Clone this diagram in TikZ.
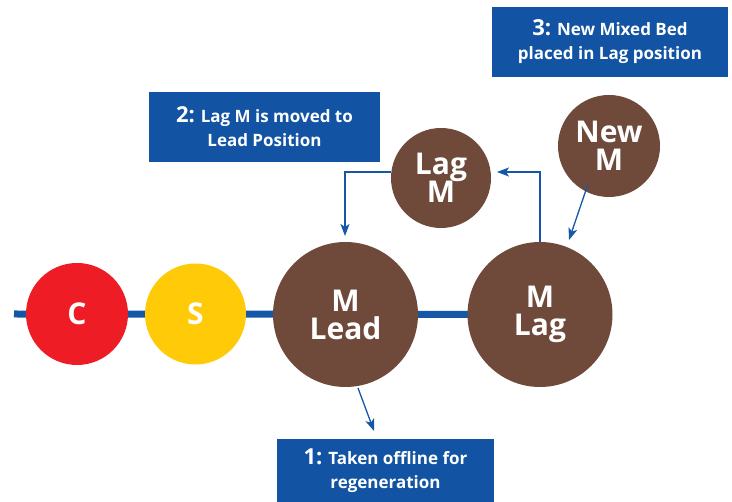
\documentclass[tikz,border=0pt]{standalone}
\usepackage{fontspec}
\setmainfont{Open Sans}
\usetikzlibrary{arrows.meta,backgrounds}
\definecolor{boxblue}{HTML}{1254A3}
\definecolor{lineblue}{HTML}{1457A6}
\definecolor{brown}{HTML}{6F4A3B}
\definecolor{cred}{HTML}{EE1D25}
\definecolor{cyel}{HTML}{FFCB08}
\tikzset{
  bed/.style={circle, fill=#1, text=white, font=\bfseries\fontsize{30}{31}\selectfont, align=center, inner sep=0pt},
  label box/.style={fill=boxblue, text=white, font=\bfseries\fontsize{17}{24}\selectfont, align=center, inner sep=0pt},
  flow/.style={draw=lineblue, line width=1.3pt, -{Stealth[length=12pt, width=9pt, inset=3pt]}},
  pipe/.style={draw=lineblue, line width=7pt}
}
\newcommand{\stepnum}[1]{{\fontsize{22}{24}\selectfont #1}}
\begin{document}
\begin{tikzpicture}[x=1pt, y=-1pt]
\useasboundingbox (0,0) rectangle (732,502);
\coordinate (pstart) at (14,314);
\node[bed=cred, minimum size=102pt] (C) at (77,314) {C};
\node[bed=cyel, minimum size=101pt] (S) at (195.5,314) {S};
\node[bed=brown, minimum size=145pt] (lead) at (345.5,314.5) {M\\[-3pt]Lead};
\node[bed=brown, minimum size=145pt] (lag) at (540,314.5) {M\\[-3pt]Lag};
\node[bed=brown, minimum size=100pt] (lagm) at (441,178) {Lag\\[-3pt]M};
\node[bed=brown, minimum size=102pt] (newm) at (609,146) {New\\[-3pt]M};
\begin{scope}[on background layer]
\draw[pipe] (pstart) -- (lag.center);
\end{scope}
\node[label box, minimum width=217pt, minimum height=63pt] (b1) at (385.5,470.5) {\stepnum{1:} Taken offline for\\regeneration};
\node[label box, minimum width=231pt, minimum height=70pt] (b2) at (264.5,127) {\stepnum{2:} Lag M is moved to\\Lead Position};
\node[label box, minimum width=236pt, minimum height=70pt] (b3) at (610,42) {\stepnum{3:} New Mixed Bed\\placed in Lag position};
\coordinate (a1s) at (358,388);
\coordinate (a1e) at (374,431);
\draw[flow] (a1s) -- (a1e);
\draw[flow] (lagm.west |- 0,172) -| (345,236);
\draw[flow] (lag.north) |- (497,172);
\coordinate (a3s) at (588,184);
\coordinate (a3e) at (569,240);
\draw[flow] (a3s) -- (a3e);
\end{tikzpicture}
\end{document}
